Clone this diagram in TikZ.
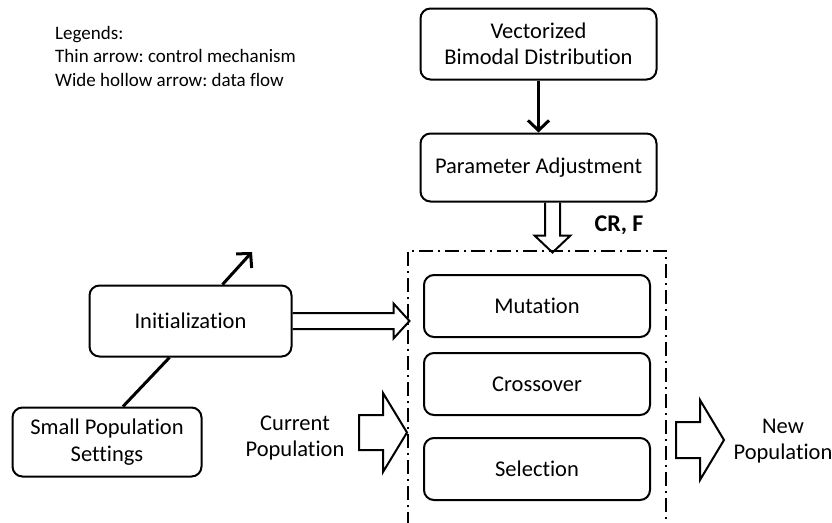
\documentclass[tikz,border=0pt]{standalone}
\usepackage{fontspec}
\setmainfont{Carlito}[Ligatures=NoCommon]
\frenchspacing
\usetikzlibrary{arrows.meta,calc}
\tikzset{
  box/.style={draw, line width=2pt, rounded corners=10pt, align=center, inner sep=0pt,
    font=\fontsize{22.5}{26.5}\selectfont},
  ctrl/.style={line width=3pt, -{Straight Barb[length=10pt,width=21pt]}},
  flow/.style={draw, line width=2pt, line join=miter},
  frame/.style={line width=2pt, dash pattern=on 14pt off 5pt on 2pt off 5pt},
}

\begin{document}
\begin{tikzpicture}[x=1pt,y=-1pt]
  \useasboundingbox (0,0) rectangle (832,522);
  % legend
  \node[anchor=north west, align=left, inner sep=0pt, font=\fontsize{19}{23.5}\selectfont] (legend) at (55,26)
    {Legends:\\Thin arrow: control mechanism\\Wide hollow arrow: data flow};
  % blocks
  \node[box, minimum width=236pt, minimum height=71pt] (vbd) at (538.5,44) {Vectorized\\Bimodal Distribution};
  \node[box, minimum width=236pt, minimum height=68pt] (param) at (538.5,167.5) {Parameter Adjustment};
  \node[box, minimum width=202pt, minimum height=71pt] (init) at (190.5,321) {Initialization};
  \node[box, minimum width=189pt, minimum height=69pt] (small) at (107,442) {Small Population\\Settings};
  \node[box, minimum width=226pt, minimum height=62pt] (mut) at (537,306) {Mutation};
  \node[box, minimum width=226pt, minimum height=62pt] (cross) at (537,384) {Crossover};
  \node[box, minimum width=226pt, minimum height=62pt] (sel) at (537,469) {Selection};
  % DE loop frame
  \draw[frame] (408,526) -- (408,251) -- (666,251) -- (666,526);
  % control arrows
  \coordinate (ctrlend) at (252,252);
  \draw[ctrl] (vbd) -- (param);
  \draw[ctrl] ($(init.north)+(32,0)$) -- (ctrlend);
  \draw[line width=3pt] ($(small.north)+(16,0)$) -- ($(init.south)+(-21,0)$);
  % data flow arrows
  \coordinate (pstart) at ($(param.south)+(14,0)$);
  \draw[flow] (pstart) ++(-7.5,0) -- ++(0,33) -- ++(-10.5,0) -- ++(18,17)
    -- ++(18,-17) -- ++(-10.5,0) -- ++(0,-33);
  \draw[flow] ($(init.east)+(0,-8)$) -- ++(101,0) -- ++(0,-9.5) -- ++(16,17.5)
    -- ++(-16,17.5) -- ++(0,-9.5) -- ++(-101,0);
  \coordinate (curin) at (407,432.5);
  \draw[flow] (curin) -- ++(-24,-39.5) -- ++(0,22) -- ++(-24,0) -- ++(0,35)
    -- ++(24,0) -- ++(0,22) -- cycle;
  \coordinate (newout) at (724,440);
  \draw[flow] (newout) -- ++(-24,-40) -- ++(0,22) -- ++(-24,0) -- ++(0,36)
    -- ++(24,0) -- ++(0,22) -- cycle;
  % labels
  \node[font=\fontsize{22.5}{26.5}\selectfont, align=center] (curtext) at (295,438) {Current\\Population};
  \node[font=\fontsize{22.5}{26.5}\selectfont, align=center] (newtext) at (783,441) {New\\Population};
  \node[font=\fontsize{24}{27}\bfseries] (crf) at (619,225) {CR, F};
\end{tikzpicture}
\end{document}
